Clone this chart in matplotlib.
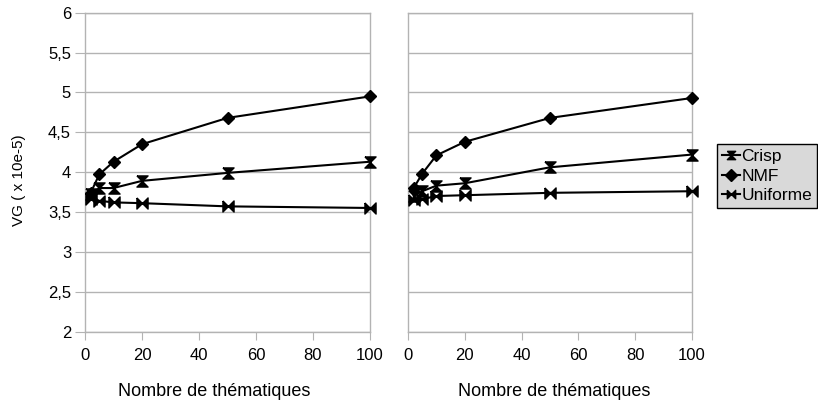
import numpy as np
import matplotlib
matplotlib.use("Agg")
import matplotlib.pyplot as plt

plt.rcParams['font.family'] = ['Liberation Sans', 'DejaVu Sans']

x_vals = [2, 5, 10, 20, 50, 100]

# left panel
crisp_left = [3.72, 3.80, 3.80, 3.89, 3.99, 4.13]
nmf_left = [3.74, 3.97, 4.13, 4.35, 4.68, 4.95]
unif_left = [3.66, 3.64, 3.62, 3.61, 3.57, 3.55]

# right panel
crisp_right = [3.70, 3.76, 3.83, 3.86, 4.06, 4.22]
nmf_right = [3.80, 3.98, 4.21, 4.38, 4.68, 4.93]
unif_right = [3.65, 3.66, 3.70, 3.71, 3.74, 3.76]

y_ticks = [2, 2.5, 3, 3.5, 4, 4.5, 5, 5.5, 6]
y_labels = ['2', '2,5', '3', '3,5', '4', '4,5', '5', '5,5', '6']
x_ticks = [0, 20, 40, 60, 80, 100]

series_names = ['Crisp', 'NMF', 'Uniforme']

# custom markers: vertical hourglass, diamond, horizontal bowtie
hourglass = [(-1, 1), (1, 1), (-1, -1), (1, -1), (-1, 1)]
bowtie = [(-1, 1), (-1, -1), (1, 1), (1, -1), (-1, 1)]
markers = [hourglass, 'D', bowtie]
msizes = [8, 6, 8]

grid_col = '#b3b3b3'
W, H = 818, 405

fig = plt.figure(figsize=(8.18, 4.05), dpi=100)
ax1 = fig.add_axes([85 / W, 1 - 331.5 / H, 285 / W, 318.8 / H])
ax2 = fig.add_axes([408 / W, 1 - 331.5 / H, 284 / W, 318.8 / H])

panels = [(ax1, [crisp_left, nmf_left, unif_left]),
          (ax2, [crisp_right, nmf_right, unif_right])]

handles = []
for ax, data in panels:
    for i, ys in enumerate(data):
        h, = ax.plot(x_vals, ys, color='black', lw=1.5, marker=markers[i],
                     markersize=msizes[i], markerfacecolor='black',
                     markeredgecolor='black', label=series_names[i],
                     clip_on=False, zorder=3)
        if ax is ax1:
            handles.append(h)
    ax.set_xlim(0, 100)
    ax.set_ylim(2, 6)
    ax.set_xticks(x_ticks)
    ax.set_yticks(y_ticks)
    ax.grid(axis='y', color=grid_col, lw=1)
    ax.set_axisbelow(True)
    for s in ax.spines.values():
        s.set_color(grid_col)
        s.set_linewidth(1)
    ax.tick_params(axis='x', direction='out', length=6, color=grid_col,
                   labelsize=12, pad=6)

ax1.set_yticklabels(y_labels)
ax1.tick_params(axis='y', direction='out', length=7, color=grid_col,
                labelsize=12, pad=3)
ax2.tick_params(axis='y', left=False, labelleft=False)

# axis titles
fig.text(214 / W, 1 - 392 / H, 'Nombre de thématiques', fontsize=13,
         ha='center', va='center')
fig.text(554 / W, 1 - 392 / H, 'Nombre de thématiques', fontsize=13,
         ha='center', va='center')
fig.text(19 / W, 1 - 180 / H, 'VG ( x 10e-5)', fontsize=11, rotation=90,
         ha='center', va='center')

leg = fig.legend(handles, series_names, loc='center left',
                 bbox_to_anchor=(717 / W, 1 - 176 / H), fontsize=12.5,
                 frameon=True, fancybox=False, handlelength=1.0,
                 handletextpad=0.1, labelspacing=0.25, borderpad=0.3,
                 borderaxespad=0)
leg.get_frame().set_facecolor('#d9d9d9')
leg.get_frame().set_edgecolor('black')
leg.get_frame().set_linewidth(1)
leg.get_frame().set_alpha(1)
for lh in leg.legend_handles:
    lh.set_markersize(6)

fig.savefig('out.png', dpi=100)
